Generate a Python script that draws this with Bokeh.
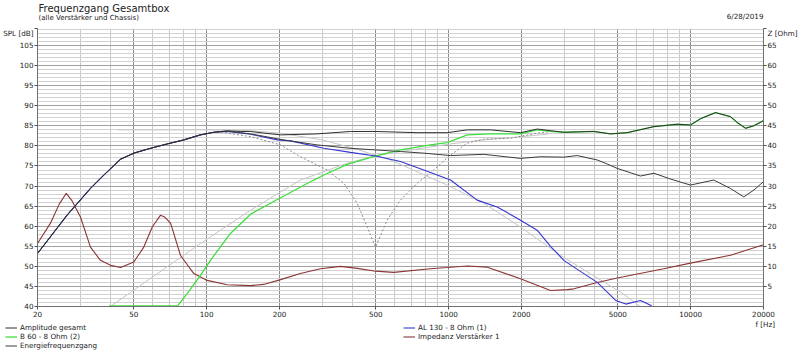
from bokeh.plotting import figure
from bokeh.layouts import column, row
from bokeh.models import (FixedTicker, LinearAxis, Range1d, Label, Legend, LegendItem,
                          PrintfTickFormatter)
from bokeh.embed import file_html
from bokeh.resources import INLINE

FONT = "DejaVu Sans"
TXT = "#222222"
FS = "7.2px"
NAN = float("nan")

# ---------------- data ----------------
x_major = [20, 50, 100, 200, 500, 1000, 2000, 5000, 10000, 20000]
x_minor = [30, 40, 60, 70, 80, 90, 300, 400, 600, 700, 800, 900,
           3000, 4000, 6000, 7000, 8000, 9000]
spl_ticks = [40, 45, 50, 55, 60, 65, 70, 75, 80, 85, 90, 95, 100, 105]
ohm_ticks = [5, 10, 15, 20, 25, 30, 35, 40, 45, 50, 55, 60, 65]
spl_top = 109.25
ohm_top = 69.25

# Amplitude gesamt
f_amp = [20, 26.5, 33.1, 37.6, 44.1, 50, 58.6, 68.7, 80.5, 94.3, 107, 121.6, 138, 152, 172, 202,
         286, 393, 499, 741, 986, 1194, 1490, 1981, 2322, 2636, 2992, 3980, 4660, 5470, 7050,
         8800, 9980, 11000, 12670, 14600, 15600, 16860, 18200, 20000]
amp = [53.2, 62.75, 69.4, 72.75, 76.7, 78.2, 79.4, 80.5, 81.5, 82.75, 83.4, 83.75, 83.6, 83.6, 83.2, 82.75,
       83.0, 83.6, 83.6, 83.3, 83.3, 84.0, 84.0, 83.3, 84.2, 83.8, 83.4, 83.6, 83.0, 83.3, 84.8,
       85.4, 85.2, 86.8, 88.3, 87.3, 85.8, 84.4, 85.0, 86.3]

# Energiefrequenzgang
f_en = [20, 26.5, 33.1, 37.6, 44.1, 50, 58.6, 68.7, 80.5, 94.3, 107, 121.6, 152, 208, 286, 393,
        499, 632, 789, 1018, 1397, 1981, 2396, 2992, 3396, 4112, 4520, 4972, 6205, 7050, 8256,
        9980, 12460, 14600, 16580, 18240, 20000]
en = [53.2, 62.75, 69.4, 72.75, 76.7, 78.2, 79.4, 80.5, 81.5, 82.75, 83.4, 83.7, 83.0, 81.5, 80.25, 79.4,
      79.0, 78.6, 78.2, 77.6, 77.9, 76.9, 77.3, 77.2, 77.6, 76.5, 75.5, 74.4, 72.5, 73.2, 71.75,
      70.25, 71.5, 69.4, 67.3, 69.0, 71.1]

# AL 130 - 8 Ohm (1)
f_al = [20, 26.5, 33.1, 37.6, 44.1, 50, 58.6, 68.7, 80.5, 94.3, 107, 121.6, 152, 196, 222, 305,
        393, 499, 632, 789, 1018, 1312, 1587, 1981, 2322, 2636, 2992, 3293, 4112, 4900, 5400,
        6205, 6900]
al = [53.2, 62.75, 69.4, 72.75, 76.7, 78.2, 79.4, 80.5, 81.5, 82.75, 83.4, 83.6, 82.9, 81.5, 81.25, 79.4,
      78.4, 77.5, 76.1, 74.0, 71.5, 66.5, 64.8, 61.5, 59.0, 55.0, 51.5, 49.8, 46.0, 41.5, 40.6,
      41.5, 40.2]

# B 60 - 8 Ohm (2)
f_b60 = [39.5, 75.8, 83.1, 94.3, 103.7, 125.4, 152, 202, 277, 305, 381, 499, 632, 841, 986, 1194,
         1490, 1981, 2322, 2636, 2992, 3980, 4660, 5470, 7050, 8800, 9980, 11000, 12670, 14600,
         15600, 16860, 18200, 20000]
b60 = [40.15, 40.15, 43.2, 47.75, 51.5, 58.2, 63.0, 67.1, 71.5, 72.75, 75.4, 77.5, 79.0, 80.25, 80.8, 82.75,
       83.0, 83.0, 84.0, 83.6, 83.4, 83.6, 83.0, 83.3, 84.8, 85.4, 85.2, 86.8, 88.3, 87.3,
       85.8, 84.4, 85.0, 86.3]

# Impedanz Verstaerker 1 (Ohm, right axis)
f_z = [20, 22.6, 24.6, 26.3, 27.8, 30.1, 33.1, 36.4, 40.1, 44.1, 50, 55, 59.6, 64.5, 67, 71, 78,
       88.5, 100.5, 121.6, 152, 172, 202, 244, 295, 357, 420, 499, 593, 841, 986, 1194, 1444,
       1981, 2636, 3092, 3293, 4112, 4972, 7740, 9980, 14600, 20000]
z = [15.7, 20.7, 25.5, 28.2, 26.3, 22.3, 14.8, 11.5, 10.25, 9.7, 11.1, 14.8, 19.8, 22.75, 22.3, 20.7, 12.7,
     8.2, 6.5, 5.4, 5.2, 5.5, 6.7, 8.2, 9.4, 10.0, 9.5, 8.8, 8.5, 9.4, 9.7, 10.1, 9.8,
     6.9, 4.0, 4.2, 4.4, 6.0, 7.1, 9.4, 10.8, 12.75, 15.4]

# grey dotted sum curve (notch at 500 Hz)
f_dash = [110.5, 152, 202, 244, 315, 369, 419, 499, 557, 632, 741, 868, 1018, 1194, 1397, 1802,
          2322, 2636]
dash = [83.6, 82.3, 80.25, 77.3, 74.0, 70.7, 65.7, 54.8, 61.5, 66.5, 70.7, 74.0, 77.75, 80.7, 81.7, 81.9,
        83.2, 83.6]

# light grey target curves
f_hp = [40, 94.3, 152, 244, 381, 499, 632, 1018, 1400, 2000, 2600]
hp = [40, 55.7, 64, 71.5, 75.7, 77.5, 78.6, 80.5, 81.5, 82.3, 83.0]
f_lp = [42.7, 100, 150, 200, 300, 400, 575, 765, 986, 1397, 1981, 2898, 3980, 5130, 6205]
lp = [84.0, 84.0, 83.8, 83.2, 81.5, 79.5, 76.5, 73.2, 70.25, 65.7, 59.8, 52.75, 47.6, 43.6, 40.0]

# series styles
C_AMP, C_EN, C_AL, C_B60, C_Z = "#2e2e2e", "#3c3c3c", "#3636d2", "#3fe03f", "#8b3535"


def strip(w, h):
    f = figure(width=w, height=h, x_range=Range1d(0, w), y_range=Range1d(0, h),
               min_border=0, toolbar_location=None, output_backend="svg",
               x_axis_location=None, y_axis_location=None, frame_align=False)
    f.grid.visible = False
    f.outline_line_color = None
    return f


def lab(fig, x, y, text, size, align="left"):
    fig.add_layout(Label(x=x, y=y, text=text, text_font=FONT, text_font_size=size,
                         text_color=TXT, text_align=align, text_baseline="middle"))


# ---------------- header strip ----------------
head = strip(800, 28)
lab(head, 38, 20, "Frequenzgang Gesamtbox", "10px")
lab(head, 38, 11, "(alle Verstärker und Chassis)", "7px")
lab(head, 763, 12, "6/28/2019", FS, "right")

# ---------------- main chart ----------------
p = figure(width=800, height=292, x_axis_type="log", x_range=Range1d(20, 20000),
           y_range=Range1d(40, spl_top), output_backend="svg", toolbar_location=None,
           min_border_left=37, min_border_right=37, min_border_top=0, min_border_bottom=14)
p.background_fill_color = "white"
p.border_fill_color = "white"
p.outline_line_color = None
p.extra_y_ranges = {"z": Range1d(0, ohm_top)}

p.xgrid.ticker = FixedTicker(ticks=x_major, minor_ticks=x_minor)
p.xgrid.grid_line_color = "#8c8c8c"
p.xgrid.minor_grid_line_color = "#cacaca"
p.ygrid.ticker = FixedTicker(ticks=spl_ticks, minor_ticks=list(range(41, 110)))
p.ygrid.grid_line_color = "#a0a0a0"
p.ygrid.minor_grid_line_color = "#d2d2d2"

p.xaxis.ticker = FixedTicker(ticks=x_major)
p.xaxis.formatter = PrintfTickFormatter(format="%d")
p.yaxis.ticker = FixedTicker(ticks=spl_ticks + [spl_top])
p.yaxis.major_label_overrides = {spl_top: "SPL [dB]"}

zax = LinearAxis(y_range_name="z", ticker=FixedTicker(ticks=ohm_ticks + [ohm_top]))
zax.major_label_overrides = {ohm_top: "Z [Ohm]"}
p.add_layout(zax, "right")

for ax in (p.xaxis[0], p.yaxis[0], zax):
    ax.major_label_text_font = FONT
    ax.major_label_text_font_size = FS
    ax.major_label_text_color = TXT
    ax.major_tick_in = 0
    ax.major_tick_out = 3
    ax.minor_tick_line_color = None
    ax.axis_line_color = "#707070"
    ax.major_tick_line_color = "#505050"
    ax.major_label_standoff = 1

p.line(f_lp, lp, line_color="#c6c6c6", line_width=1)
p.line(f_hp, hp, line_color="#c6c6c6", line_width=1)
p.line(f_dash, dash, line_color="#8a8a8a", line_width=1, line_dash="2 2")
p.line(f_z, z, y_range_name="z", line_color=C_Z, line_width=1.1)
p.line(f_b60, b60, line_color=C_B60, line_width=1.3)
p.line(f_al, al, line_color=C_AL, line_width=1.1)
p.line(f_en, en, line_color=C_EN, line_width=1)
p.line(f_amp, amp, line_color=C_AMP, line_width=1)

# ---------------- legend strip (legend proxies hold no visible data) ----------------
leg_kw = dict(label_text_font=FONT, label_text_font_size=FS, label_text_color=TXT,
              glyph_width=12, glyph_height=9, label_height=9, label_standoff=3,
              spacing=0, padding=0, margin=0, background_fill_alpha=0,
              border_line_color=None)

b1 = strip(400, 31)
k_amp = b1.line([NAN], [NAN], line_color=C_AMP, line_width=1)
k_b60 = b1.line([NAN], [NAN], line_color=C_B60, line_width=1.3)
k_en = b1.line([NAN], [NAN], line_color=C_EN, line_width=1)
b1.add_layout(Legend(items=[LegendItem(label="Amplitude gesamt", renderers=[k_amp]),
                            LegendItem(label="B 60 - 8 Ohm (2)", renderers=[k_b60]),
                            LegendItem(label="Energiefrequenzgang", renderers=[k_en])],
                     location=(5, 1.5), **leg_kw))

b2 = strip(400, 31)
k_al = b2.line([NAN], [NAN], line_color=C_AL, line_width=1.1)
k_z = b2.line([NAN], [NAN], line_color=C_Z, line_width=1.1)
b2.add_layout(Legend(items=[LegendItem(label="AL 130 - 8 Ohm (1)", renderers=[k_al]),
                            LegendItem(label="Impedanz Verstärker 1", renderers=[k_z])],
                     location=(3, 10.5), **leg_kw))
lab(b2, 364.7, 27, "f [Hz]", FS, "center")

layout = column(head, p, row(b1, b2, spacing=0), spacing=0)
open("out.html", "w").write(file_html(layout, INLINE))
